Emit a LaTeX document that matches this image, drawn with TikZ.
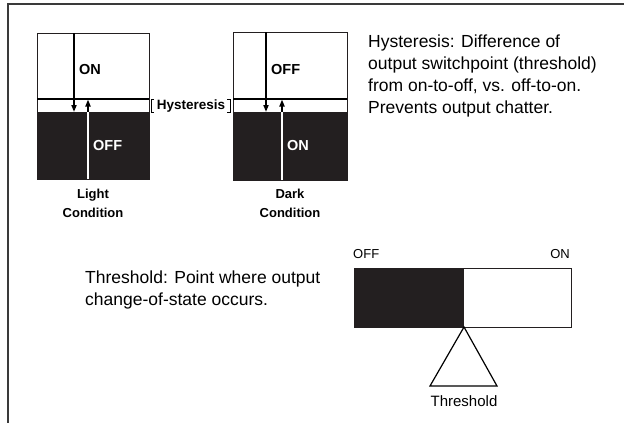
\documentclass[tikz,border=0pt]{standalone}
\usepackage{fontspec}
\setmainfont{Liberation Sans}
\usepackage{tikz}
\usetikzlibrary{arrows.meta}
\definecolor{inkdark}{HTML}{231F20}
\definecolor{framegray}{HTML}{3A3A3A}
\tikzset{%
  myedge/.style={-{Triangle[length=7pt,width=5pt]}, line width=1.8pt},
  mybox/.style={draw=inkdark, line width=0.9pt},
  mystate/.style={font=\bfseries\fontsize{14.5}{15}\selectfont, anchor=west, inner sep=0pt},
  mycap/.style={font=\bfseries\fontsize{13}{19}\selectfont, align=center, inner sep=0pt},
  mytext/.style={font=\fontsize{17.5}{22}\selectfont, align=left, anchor=north west, inner sep=0pt}
}

\begin{document}
\begin{tikzpicture}[x=1pt, y=-1pt]
\useasboundingbox (0,0) rectangle (624,423);

% frame
\draw[framegray, line width=1.3pt] (624,4) -- (8,4) -- (8,423);

% light and dark condition boxes
\foreach \n / \xl / \xr / \yt / \yb / \xd / \xu / \stA / \stB / \word in {light/37/149/33/179/74/88/ON/OFF/Light, dark/233/347/32/180/266/282/OFF/ON/Dark}{
  \fill[inkdark] (\xl,112) rectangle (\xr,\yb);
  \draw[mybox] (\xl,\yt) rectangle (\xr,\yb);
  \draw[line width=1.8pt] (\xl,99) -- (\xr,99);
  \coordinate (\n-dn) at (\xd,\yt);
  \coordinate (\n-up) at (\xu,\yb);
  \draw[myedge] (\n-dn) -- (\xd,112);
  \draw[white, line width=1.8pt] (\n-up) -- (\xu,112);
  \draw[myedge] (\xu,112) -- (\xu,99.5);
  \node[mystate] (\n-top) at (\xd+5,70) {\stA};
  \node[mystate, white] (\n-bot) at (\xu+5,146) {\stB};
  \node[mycap] (\n-cap) at ({(\xl+\xr)/2},203) {\word\\Condition};
}

% hysteresis band
\node[font=\bfseries\fontsize{13.5}{14}\selectfont, inner sep=0pt] (hys) at (191,106) {Hysteresis};
\draw[line width=0.9pt] (154,99) -- (151,99) -- (151,112) -- (154,112);
\draw[line width=0.9pt] (227,99) -- (230,99) -- (230,112) -- (227,112);

\node[mytext] (hys-note) at (368,35) {Hysteresis: Difference of\\output switchpoint (threshold)\\from on-to-off, vs. off-to-on.\\Prevents output chatter.};
\node[mytext] (thr-note) at (85,271) {Threshold: Point where output\\change-of-state occurs.};

% threshold bar
\fill[inkdark] (354,268) rectangle (464,327);
\draw[mybox] (354,268) rectangle (571,327);
\node[font=\fontsize{13}{13}\selectfont, anchor=base west, inner sep=0pt] (bar-off) at (353,258) {OFF};
\node[font=\fontsize{13}{13}\selectfont, anchor=base east, inner sep=0pt] (bar-on) at (570,258) {ON};
\coordinate (thr-tip) at (464,327);
\draw[line width=1.2pt] (thr-tip) -- (430,386) -- (497,386) -- cycle;
\node[font=\fontsize{15}{15}\selectfont] (thr-label) at (464,401) {Threshold};

\end{tikzpicture}
\end{document}
